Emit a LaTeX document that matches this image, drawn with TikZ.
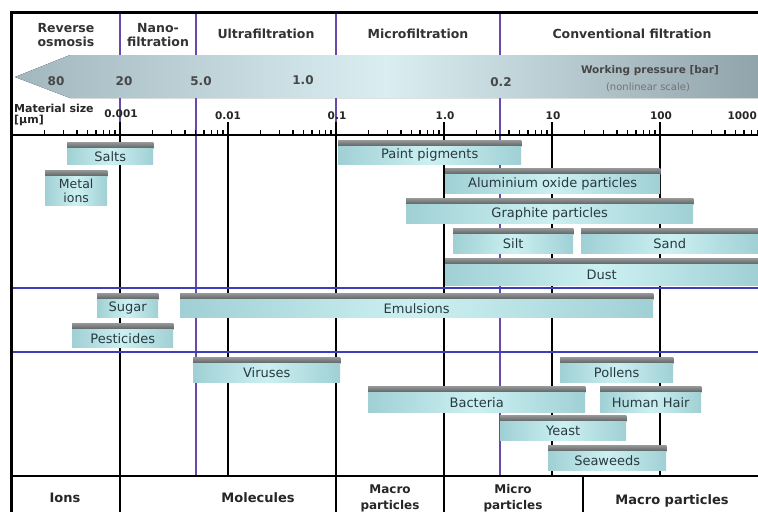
\documentclass[tikz,border=0pt]{standalone}
\usepackage{fontspec}
\setmainfont{DejaVu Sans}
\definecolor{barcyan}{RGB}{204,240,242}
\definecolor{baredge}{RGB}{160,208,212}
\definecolor{barshadow}{RGB}{96,100,100}
\definecolor{bartext}{RGB}{40,58,64}
\definecolor{bandgrey}{RGB}{162,182,190}
\definecolor{bandlight}{RGB}{218,238,242}
\definecolor{sepviolet}{RGB}{104,72,168}
\definecolor{rowblue}{RGB}{62,62,186}

\begin{document}
\begin{tikzpicture}[x=1pt, y=-1pt,
    particle/.style={anchor=north west, inner sep=0pt, text=bartext,
        font=\fontsize{13}{14}\selectfont,
        left color=baredge, right color=baredge, middle color=barcyan,
        append after command={\pgfextra{%
            \fill[top color=barshadow!65, bottom color=barshadow]
                ([yshift=6pt]\tikzlastnode.north west) rectangle (\tikzlastnode.north east);}}},
    membrane/.style={draw=sepviolet, line width=1.6pt},
    decade/.style={draw=black, line width=1.6pt},
    rowsep/.style={draw=rowblue, line width=1.4pt},
    hdr/.style={font=\fontsize{12.5}{14.5}\selectfont\bfseries, text=black!80, align=center},
    pressure/.style={font=\fontsize{12}{13}\selectfont\bfseries, text=black!72},
    sizelbl/.style={font=\fontsize{10.5}{12}\selectfont\bfseries, text=black!85},
    foot/.style={font=\fontsize{13}{16}\selectfont\bfseries, text=black!85, align=center}]

    \useasboundingbox (0,0) rectangle (758,512);
    \clip (0,0) rectangle (758,512);
    \fill[white] (0,0) rectangle (758,512);

    % Separations des procedes
    \foreach \x in {120,196,336,500}
        \draw[membrane] (\x,12) -- (\x,135);
    \draw[membrane] (196,135) -- (196,476);
    \draw[membrane] (500,135) -- (500,476);

    % Decades
    \foreach \x in {120,336,444}
        \draw[decade] (\x,122) -- (\x,512);
    \foreach \x in {228,552,660}
        \draw[decade] (\x,122) -- (\x,476);
    \draw[decade] (583,476) -- (583,512);

    % Lignes horizontales
    \draw[rowsep] (10,288) -- (758,288);
    \draw[rowsep] (10,352) -- (758,352);
    \draw[line width=2pt] (10,476) -- (758,476);
    \draw[line width=2pt] (10,135) -- (758,135);
    \draw[line width=3pt] (10,12) -- (758,12);
    \draw[line width=3pt] (11,12) -- (11,512);

    % Graduations
    \foreach \d in {-1,...,6}
        \foreach \k in {2,...,9}
            \draw[line width=1.2pt] ({120+108*(\d+log10(\k))},130) -- ++(0,5);

    % Bande pression
    \fill[left color=bandgrey, right color=bandgrey!90!black, middle color=bandlight]
        (15,77) -- (70,55) -- (758,55) -- (758,98) -- (70,98) -- cycle;

    % En-tetes
    \node[hdr] (ro) at (66,35) {Reverse\\osmosis};
    \node[hdr] (nf) at (158,35) {Nano-\\filtration};
    \node[hdr] (uf) at (266,34) {Ultrafiltration};
    \node[hdr] (mf) at (418,34) {Microfiltration};
    \node[hdr] (cf) at (632,34) {Conventional filtration};

    % Pressions
    \node[pressure] (p80) at (56,81) {80};
    \node[pressure] (p20) at (124,81) {20};
    \node[pressure] (p5) at (201,81) {5.0};
    \node[pressure] (p1) at (303,80) {1.0};
    \node[pressure] (p02) at (501,82) {0.2};
    \node[pressure, font=\fontsize{10.5}{12}\selectfont\bfseries] (wp) at (650,71) {Working pressure [bar]};
    \node[font=\fontsize{10}{11}\selectfont, text=black!55] (nl) at (648,87) {(nonlinear scale)};

    % Echelle
    \node[sizelbl, anchor=west, align=left, inner sep=0pt, font=\fontsize{11}{11}\selectfont\bfseries]
        (ms) at (14,115) {Material size\\{[µm]}};
    \node[sizelbl] (s0001) at (121,114) {0.001};
    \node[sizelbl] (s001) at (228,116) {0.01};
    \node[sizelbl] (s01) at (337,116) {0.1};
    \node[sizelbl] (s1) at (445,116) {1.0};
    \node[sizelbl] (s10) at (553,116) {10};
    \node[sizelbl] (s100) at (661,116) {100};
    \node[sizelbl, anchor=east, inner xsep=1pt] (s1000) at (758,116) {1000};

    % Ions
    \node[particle, minimum width=86, minimum height=16] (salts) at (67,148) {Salts};
    \node[particle, minimum width=62, minimum height=29, align=center,
        font=\fontsize{12.5}{14}\selectfont] (metal) at (45,176) {Metal\\ions};

    % Particules
    \node[particle, minimum width=183, minimum height=18] (paint) at (338,146) {Paint pigments};
    \node[particle, minimum width=215, minimum height=19] (alu) at (445,174) {Aluminium oxide particles};
    \node[particle, minimum width=287, minimum height=19] (graphite) at (406,204) {Graphite particles};
    \node[particle, minimum width=120, minimum height=19] (silt) at (453,234) {Silt};
    \node[particle, minimum width=177, minimum height=19] (sand) at (581,234) {Sand};
    \node[particle, minimum width=313, minimum height=21] (dust) at (445,264) {Dust};

    % Molecules
    \node[particle, minimum width=61, minimum height=18] (sugar) at (97,299) {Sugar};
    \node[particle, minimum width=473, minimum height=18] (emulsions) at (180,299) {Emulsions};
    \node[particle, minimum width=101, minimum height=18] (pesticides) at (72,329) {Pesticides};

    % Organismes
    \node[particle, minimum width=147, minimum height=19] (viruses) at (193,363) {Viruses};
    \node[particle, minimum width=113, minimum height=19] (pollens) at (560,363) {Pollens};
    \node[particle, minimum width=217, minimum height=20] (bacteria) at (368,392) {Bacteria};
    \node[particle, minimum width=101, minimum height=20] (hair) at (600,392) {Human Hair};
    \node[particle, minimum width=126, minimum height=19] (yeast) at (500,421) {Yeast};
    \node[particle, minimum width=118, minimum height=19] (seaweeds) at (548,451) {Seaweeds};

    % Classes de taille
    \node[foot] (ions) at (65,498) {Ions};
    \node[foot] (molecules) at (258,498) {Molecules};
    \node[foot, font=\fontsize{12}{16}\selectfont\bfseries] (macro) at (390,498) {Macro\\particles};
    \node[foot, font=\fontsize{12}{16}\selectfont\bfseries] (micro) at (513,498) {Micro\\particles};
    \node[foot] (macro2) at (672,501) {Macro particles};

\end{tikzpicture}
\end{document}
